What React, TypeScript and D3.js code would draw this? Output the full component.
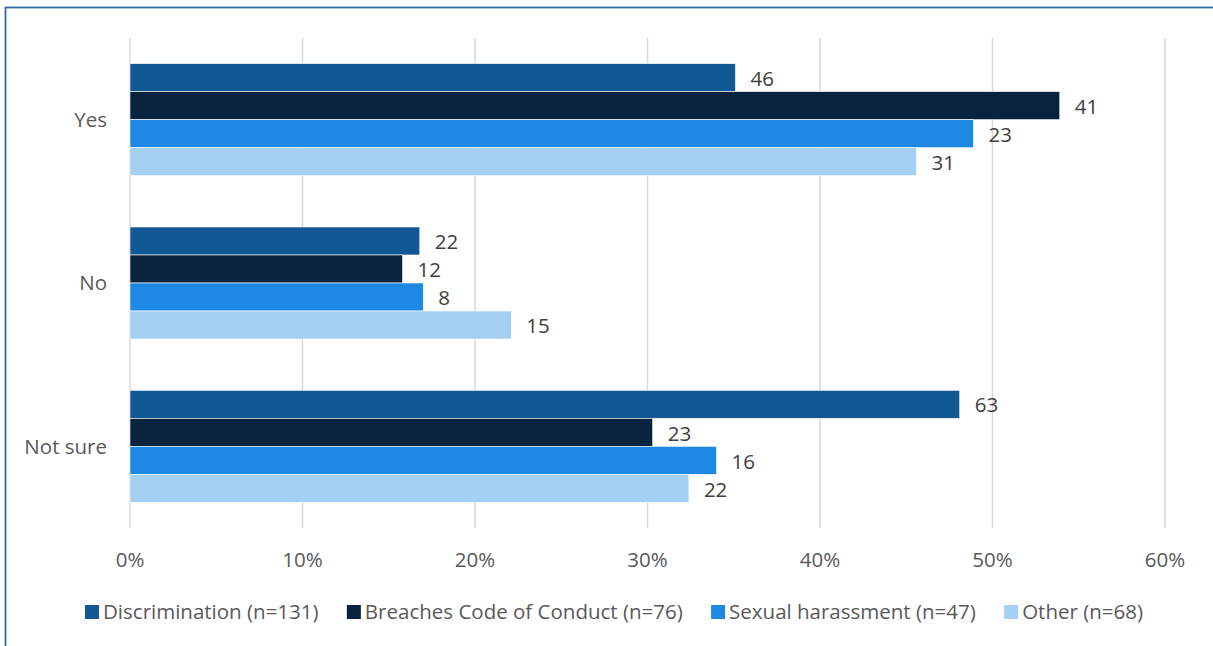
import React, { useRef, useEffect } from 'react';
import * as d3 from 'd3';

const categories = ['Yes', 'No', 'Not sure'];
const seriesNames = [
    'Discrimination (n=131)',
    'Breaches Code of Conduct (n=76)',
    'Sexual harassment (n=47)',
    'Other (n=68)',
];
const seriesColors = ['#125894', '#08233d', '#1e88e5', '#a4d0f3'];

// percent of respondents (bar length), per series, in category order
const discriminationPct = [35.1, 16.8, 48.1];
const breachesPct = [53.9, 15.8, 30.3];
const harassmentPct = [48.9, 17.0, 34.0];
const otherPct = [45.6, 22.1, 32.4];

// counts shown next to the bars
const discriminationCount = [46, 22, 63];
const breachesCount = [41, 12, 23];
const harassmentCount = [23, 8, 16];
const otherCount = [31, 15, 22];

const xTicks = [0, 10, 20, 30, 40, 50, 60];

const pctSeries = [discriminationPct, breachesPct, harassmentPct, otherPct];
const countSeries = [discriminationCount, breachesCount, harassmentCount, otherCount];

const WIDTH = 1213;
const HEIGHT = 646;
const FONT = '"Open Sans", "Liberation Sans", sans-serif';
const FS = '20.5px';

export default function App() {
    const svgRef = useRef<SVGSVGElement>(null);

    useEffect(() => {
        if (!svgRef.current) return;
        const svg = d3.select(svgRef.current);
        svg.selectAll('*').remove();

        const margin = { top: 38, right: 48, bottom: 118, left: 130 };
        const innerHeight = HEIGHT - margin.top - margin.bottom;

        // outer frame
        svg.append('rect')
            .attr('x', 5.5)
            .attr('y', 7.5)
            .attr('width', WIDTH + 10)
            .attr('height', HEIGHT + 10)
            .attr('fill', 'white')
            .attr('stroke', '#2f6ea8')
            .attr('stroke-width', 1.8);

        const x = d3.scaleLinear().domain([0, 60]).range([margin.left, WIDTH - margin.right]);
        const y = d3.scaleBand<string>()
            .domain(categories)
            .range([margin.top, margin.top + innerHeight])
            .paddingInner(0.314)
            .paddingOuter(0.157);
        const ySub = d3.scaleBand<number>()
            .domain(d3.range(seriesNames.length))
            .range([0, y.bandwidth()]);

        // grid lines
        svg.append('g')
            .selectAll('line')
            .data(xTicks)
            .enter()
            .append('line')
            .attr('x1', d => x(d))
            .attr('x2', d => x(d))
            .attr('y1', margin.top)
            .attr('y2', margin.top + innerHeight)
            .attr('stroke', '#d9d9d9')
            .attr('stroke-width', 1.5);

        // x tick labels
        svg.append('g')
            .selectAll('text')
            .data(xTicks)
            .enter()
            .append('text')
            .attr('x', d => x(d))
            .attr('y', 560)
            .attr('dy', '0.35em')
            .attr('text-anchor', 'middle')
            .attr('font-family', FONT)
            .attr('font-size', FS)
            .attr('fill', '#595959')
            .text(d => `${d}%`);

        // category labels
        svg.append('g')
            .selectAll('text')
            .data(categories)
            .enter()
            .append('text')
            .attr('x', 107)
            .attr('y', d => (y(d) as number) + y.bandwidth() / 2)
            .attr('dy', '0.35em')
            .attr('text-anchor', 'end')
            .attr('font-family', FONT)
            .attr('font-size', FS)
            .attr('fill', '#595959')
            .text(d => d);

        // bars + labels
        seriesNames.forEach((_, si) => {
            const g = svg.append('g');
            const rows = categories.map((c, ci) => ({ c, v: pctSeries[si][ci], n: countSeries[si][ci] }));
            g.selectAll('rect')
                .data(rows)
                .enter()
                .append('rect')
                .attr('x', x(0))
                .attr('y', d => (y(d.c) as number) + (ySub(si) as number))
                .attr('width', d => x(d.v) - x(0))
                .attr('height', ySub.bandwidth())
                .attr('fill', seriesColors[si])
                .attr('stroke', 'white')
                .attr('stroke-width', 0.6);

            g.selectAll('text')
                .data(rows)
                .enter()
                .append('text')
                .attr('x', d => x(d.v) + 15)
                .attr('y', d => (y(d.c) as number) + (ySub(si) as number) + ySub.bandwidth() / 2 + 1)
                .attr('dy', '0.35em')
                .attr('font-family', FONT)
                .attr('font-size', FS)
                .attr('fill', '#404040')
                .text(d => d.n);
        });

        // legend, spread from x=85 to x=1143
        const legend = svg.append('g');
        const items = legend.selectAll('g')
            .data(seriesNames)
            .enter()
            .append('g');
        items.append('rect')
            .attr('width', 14)
            .attr('height', 14)
            .attr('y', -7)
            .attr('fill', (_, i) => seriesColors[i]);
        items.append('text')
            .attr('x', 18)
            .attr('dy', '0.35em')
            .attr('font-family', FONT)
            .attr('font-size', FS)
            .attr('fill', '#595959')
            .text(d => d);

        const widths: number[] = [];
        items.each(function () {
            const t = d3.select(this).select('text').node() as SVGTextElement;
            widths.push(18 + t.getComputedTextLength());
        });
        const start = 85;
        const end = 1143;
        const gap = (end - start - d3.sum(widths)) / (widths.length - 1);
        let cx = start;
        items.attr('transform', (_, i) => {
            const tx = cx;
            cx += widths[i] + gap;
            return `translate(${tx},612)`;
        });
    }, []);

    return (
        <svg
            ref={svgRef}
            width={WIDTH}
            height={HEIGHT}
            style={{ position: 'absolute', left: 0, top: 0, background: 'white' }}
        />
    );
}
